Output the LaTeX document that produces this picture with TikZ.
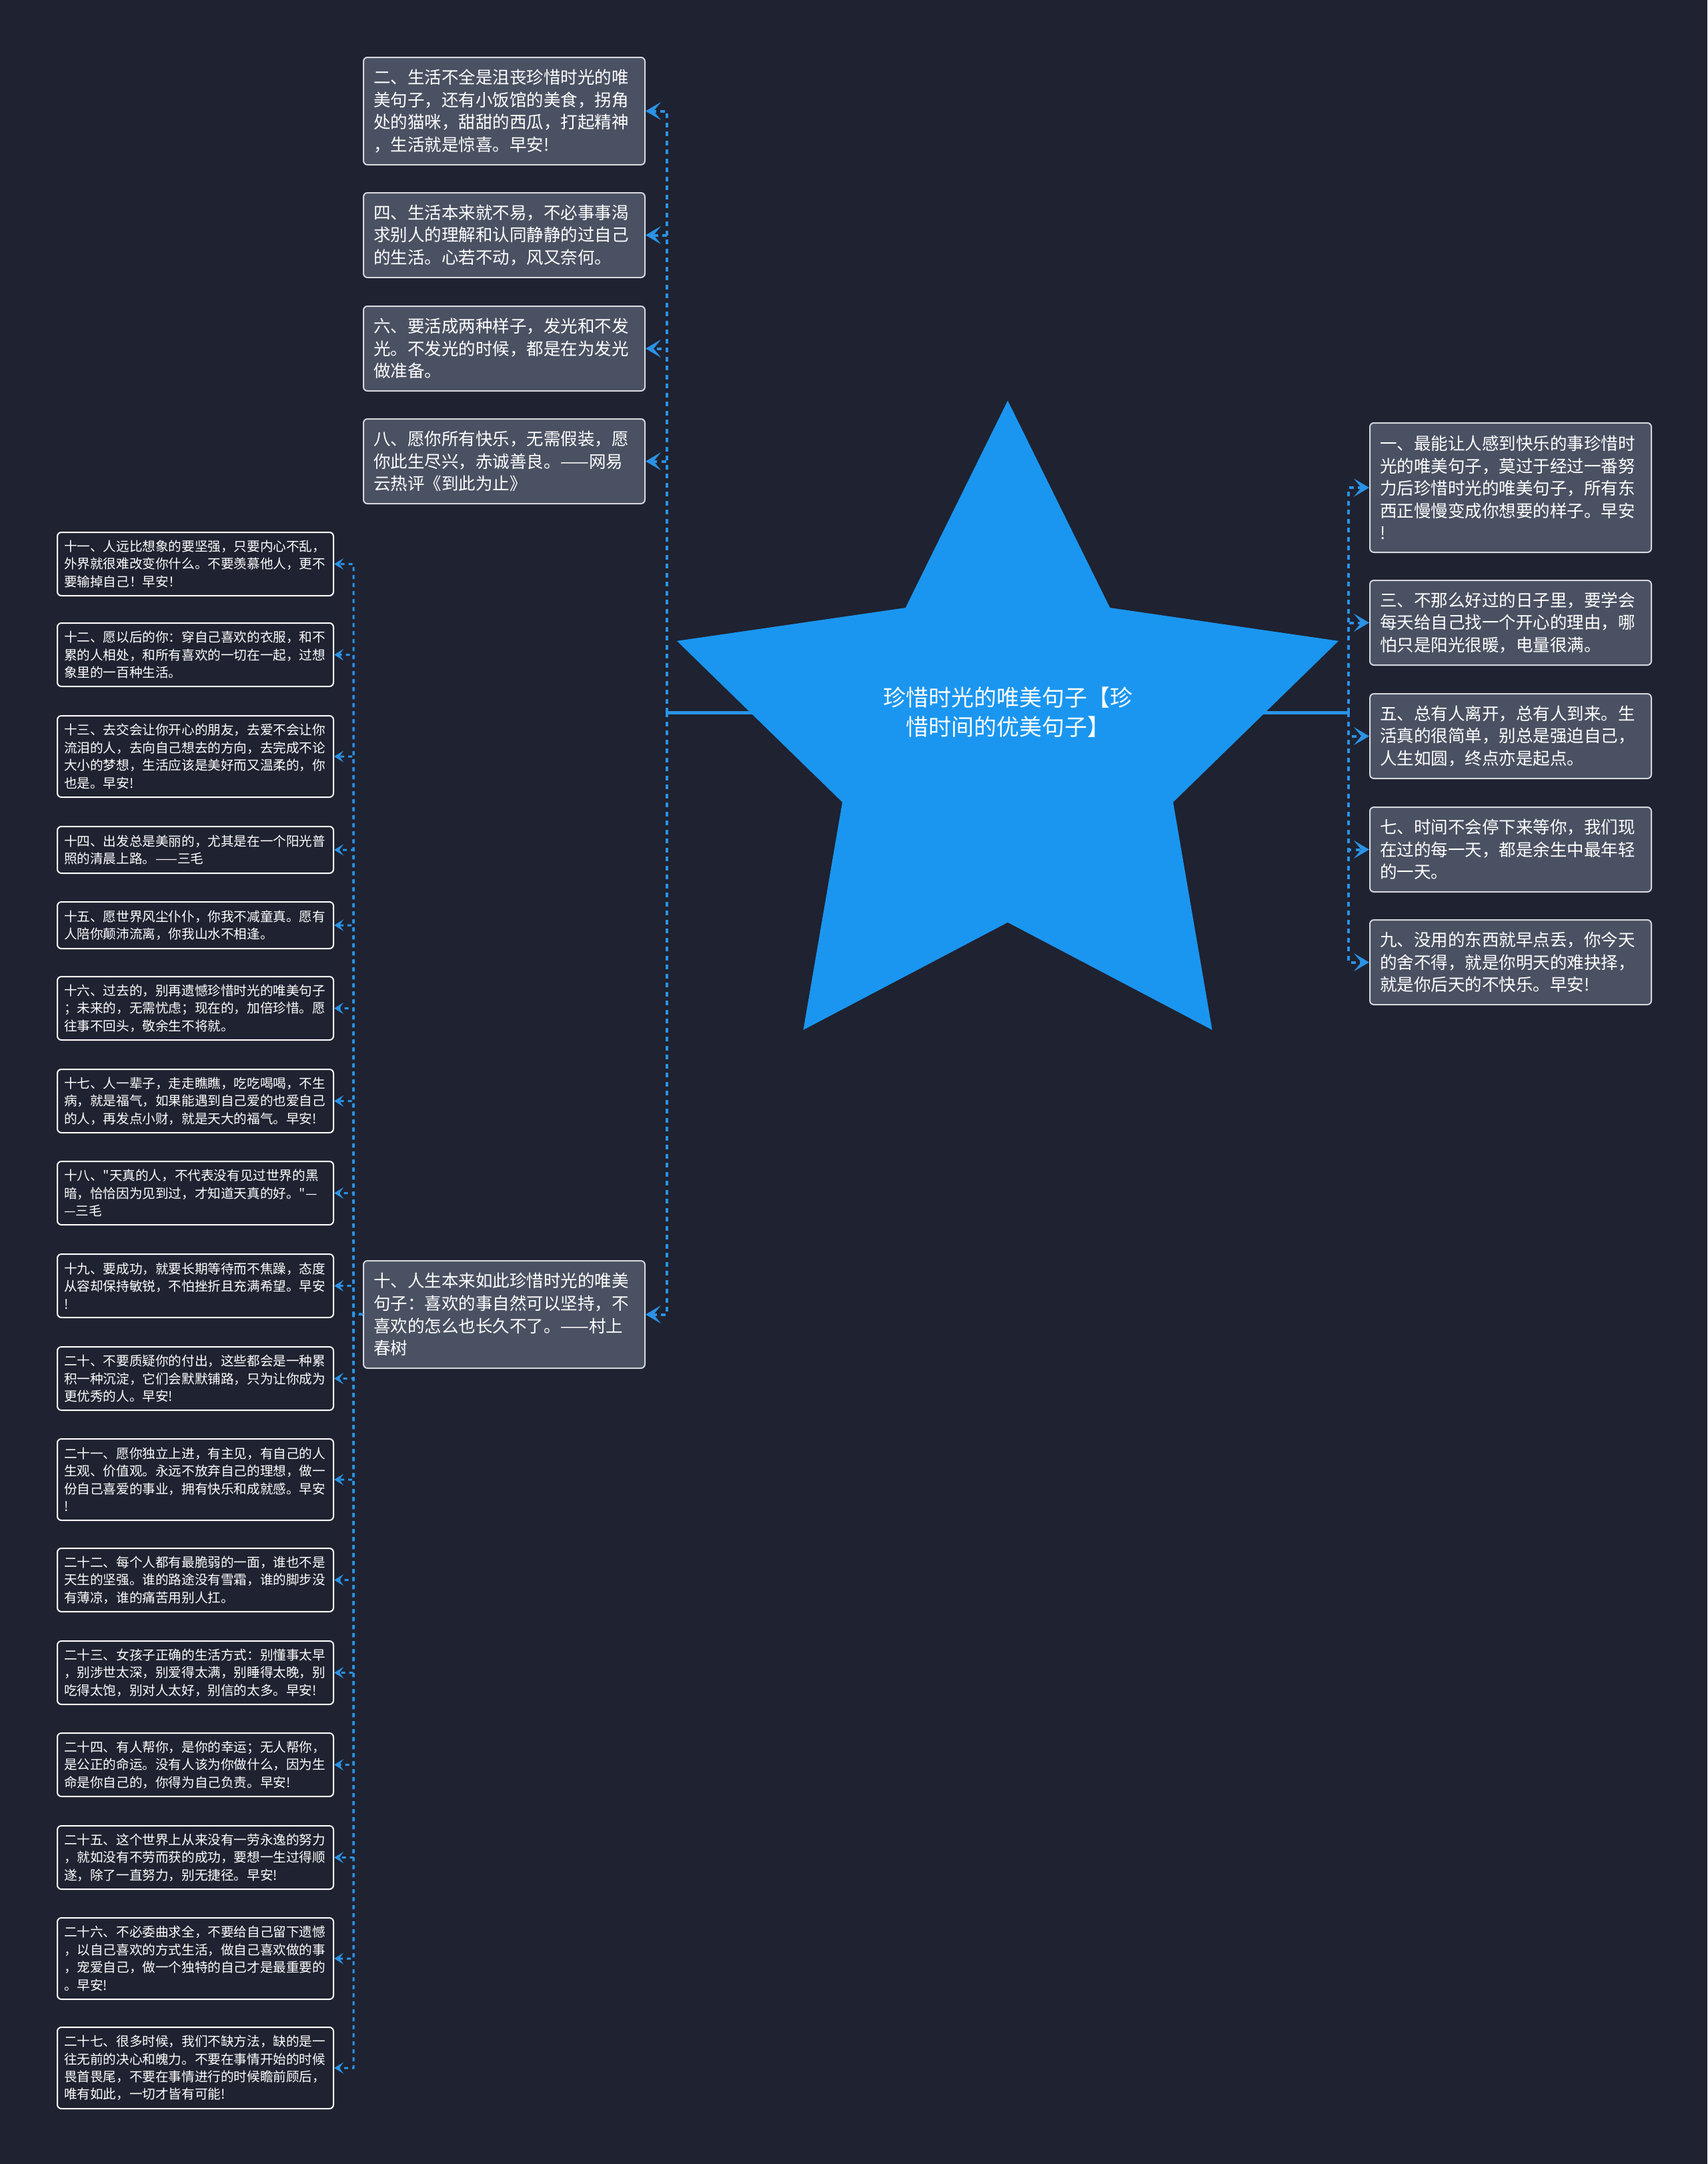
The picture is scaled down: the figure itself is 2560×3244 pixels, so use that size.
\documentclass[tikz,border=0pt]{standalone}
\usepackage{fontspec}
\setmainfont{Noto Sans CJK SC}
\newfontfamily\cjkf{Noto Sans CJK SC}
\usetikzlibrary{shapes.geometric,arrows.meta}
\definecolor{bgc}{HTML}{1F2230}
\definecolor{starblue}{HTML}{1A96F0}
\definecolor{linkblue}{HTML}{2A93E6}
\definecolor{boxfill}{HTML}{4A5162}
\definecolor{boxline}{HTML}{D4D7DD}
\pgfdeclarelayer{back}
\pgfdeclarelayer{edges}
\pgfsetlayers{back,edges,main}
\begin{document}
\begin{tikzpicture}[x=1pt,y=-1pt,
  lvone/.style={draw=boxline, line width=2pt, fill=boxfill, rounded corners=6pt, text=white,
    font=\cjkf\fontsize{25.5}{33.6}\selectfont, align=left, text width=392pt, inner xsep=15pt,
    inner ysep=0pt, anchor=north west},
  lvtwo/.style={draw=white, line width=2pt, fill=bgc, rounded corners=6pt, text=white,
    font=\cjkf\fontsize{19.6}{26.4}\selectfont, align=left, text width=394pt, inner xsep=10pt,
    inner ysep=0pt, anchor=north west},
  hthree/.style={minimum height=127pt},
  hfour/.style={minimum height=161pt},
  hfive/.style={minimum height=194pt},
  htwo/.style={minimum height=70pt},
  hthreeb/.style={minimum height=95pt},
  hfourb/.style={minimum height=122pt},
  starshape/.style={star, star points=5, star point ratio=2, minimum size=1043pt, inner sep=0pt, fill=starblue, draw=none},
  roottext/.style={text=white, font=\cjkf\fontsize{34}{44}\selectfont, align=center, inner sep=0pt},
  rootlink/.style={draw=linkblue, line width=5pt},
  lkone/.style={draw=linkblue, line width=4pt, dash pattern=on 7pt off 6.5pt, -{Stealth[length=23pt,width=27pt,inset=11pt]}},
  lktwo/.style={draw=linkblue, line width=3pt, dash pattern=on 6pt off 6pt, -{Stealth[length=14pt,width=17pt,inset=6pt]}}
]
\useasboundingbox (0,0) rectangle (2560,3244);
\begin{pgfonlayer}{back}
\fill[bgc] (0,0) rectangle (2560,3244);
\end{pgfonlayer}

% root
\node[starshape] (root) at (1511,1122) {};
\node[roottext] (roottitle) at (1511,1068) {珍惜时光的唯美句子【珍\\惜时间的优美句子】};

\coordinate (jl) at (1000,1068);
\coordinate (jr) at (2022,1068);
\coordinate (jt) at (530,1970);

% level one, left
\node[lvone,hfour] (c2) at (544,85) {二、生活不全是沮丧珍惜时光的唯\\美句子，还有小饭馆的美食，拐角\\处的猫咪，甜甜的西瓜，打起精神\\，生活就是惊喜。早安!};
\node[lvone,hthree] (c4) at (544,288) {四、生活本来就不易，不必事事渴\\求别人的理解和认同静静的过自己\\的生活。心若不动，风又奈何。};
\node[lvone,hthree] (c6) at (544,458) {六、要活成两种样子，发光和不发\\光。不发光的时候，都是在为发光\\做准备。};
\node[lvone,hthree] (c8) at (544,627) {八、愿你所有快乐，无需假装，愿\\你此生尽兴，赤诚善良。——网易\\云热评《到此为止》};
\node[lvone,hfour] (c10) at (544,1889) {十、人生本来如此珍惜时光的唯美\\句子：喜欢的事自然可以坚持，不\\喜欢的怎么也长久不了。——村上\\春树};

% level one, right
\node[lvone,hfive] (c1) at (2053,633) {一、最能让人感到快乐的事珍惜时\\光的唯美句子，莫过于经过一番努\\力后珍惜时光的唯美句子，所有东\\西正慢慢变成你想要的样子。早安\\!};
\node[lvone,hthree] (c3) at (2053,869) {三、不那么好过的日子里，要学会\\每天给自己找一个开心的理由，哪\\怕只是阳光很暖，电量很满。};
\node[lvone,hthree] (c5) at (2053,1039) {五、总有人离开，总有人到来。生\\活真的很简单，别总是强迫自己，\\人生如圆，终点亦是起点。};
\node[lvone,hthree] (c7) at (2053,1209) {七、时间不会停下来等你，我们现\\在过的每一天，都是余生中最年轻\\的一天。};
\node[lvone,hthree] (c9) at (2053,1378) {九、没用的东西就早点丢，你今天\\的舍不得，就是你明天的难抉择，\\就是你后天的不快乐。早安!};

% level two
\node[lvtwo,hthreeb] (c11) at (85,797) {十一、人远比想象的要坚强，只要内心不乱，\\外界就很难改变你什么。不要羡慕他人，更不\\要输掉自己！早安！};
\node[lvtwo,hthreeb] (c12) at (85,933) {十二、愿以后的你：穿自己喜欢的衣服，和不\\累的人相处，和所有喜欢的一切在一起，过想\\象里的一百种生活。};
\node[lvtwo,hfourb] (c13) at (85,1072) {十三、去交会让你开心的朋友，去爱不会让你\\流泪的人，去向自己想去的方向，去完成不论\\大小的梦想，生活应该是美好而又温柔的，你\\也是。早安!};
\node[lvtwo,htwo] (c14) at (85,1238) {十四、出发总是美丽的，尤其是在一个阳光普\\照的清晨上路。——三毛};
\node[lvtwo,htwo] (c15) at (85,1351) {十五、愿世界风尘仆仆，你我不减童真。愿有\\人陪你颠沛流离，你我山水不相逢。};
\node[lvtwo,hthreeb] (c16) at (85,1463) {十六、过去的，别再遗憾珍惜时光的唯美句子\\；未来的，无需忧虑；现在的，加倍珍惜。愿\\往事不回头，敬余生不将就。};
\node[lvtwo,hthreeb] (c17) at (85,1602) {十七、人一辈子，走走瞧瞧，吃吃喝喝，不生\\病，就是福气，如果能遇到自己爱的也爱自己\\的人，再发点小财，就是天大的福气。早安!};
\node[lvtwo,hthreeb] (c18) at (85,1740) {十八、"天真的人，不代表没有见过世界的黑\\暗，恰恰因为见到过，才知道天真的好。"—\\—三毛};
\node[lvtwo,hthreeb] (c19) at (85,1879) {十九、要成功，就要长期等待而不焦躁，态度\\从容却保持敏锐，不怕挫折且充满希望。早安\\!};
\node[lvtwo,hthreeb] (c20) at (85,2018) {二十、不要质疑你的付出，这些都会是一种累\\积一种沉淀，它们会默默铺路，只为让你成为\\更优秀的人。早安!};
\node[lvtwo,hfourb] (c21) at (85,2156) {二十一、愿你独立上进，有主见，有自己的人\\生观、价值观。永远不放弃自己的理想，做一\\份自己喜爱的事业，拥有快乐和成就感。早安\\!};
\node[lvtwo,hthreeb] (c22) at (85,2320) {二十二、每个人都有最脆弱的一面，谁也不是\\天生的坚强。谁的路途没有雪霜，谁的脚步没\\有薄凉，谁的痛苦用别人扛。};
\node[lvtwo,hthreeb] (c23) at (85,2459) {二十三、女孩子正确的生活方式：别懂事太早\\，别涉世太深，别爱得太满，别睡得太晚，别\\吃得太饱，别对人太好，别信的太多。早安!};
\node[lvtwo,hthreeb] (c24) at (85,2597) {二十四、有人帮你，是你的幸运；无人帮你，\\是公正的命运。没有人该为你做什么，因为生\\命是你自己的，你得为自己负责。早安!};
\node[lvtwo,hthreeb] (c25) at (85,2736) {二十五、这个世界上从来没有一劳永逸的努力\\，就如没有不劳而获的成功，要想一生过得顺\\遂，除了一直努力，别无捷径。早安!};
\node[lvtwo,hfourb] (c26) at (85,2874) {二十六、不必委曲求全，不要给自己留下遗憾\\，以自己喜欢的方式生活，做自己喜欢做的事\\，宠爱自己，做一个独特的自己才是最重要的\\。早安!};
\node[lvtwo,hfourb] (c27) at (85,3038) {二十七、很多时候，我们不缺方法，缺的是一\\往无前的决心和魄力。不要在事情开始的时候\\畏首畏尾，不要在事情进行的时候瞻前顾后，\\唯有如此，一切才皆有可能!};

\begin{pgfonlayer}{edges}
\draw[rootlink] (roottitle.center) -- (jl);
\draw[rootlink] (roottitle.center) -- (jr);
\end{pgfonlayer}

\foreach \c in {c2,c4,c6,c8,c10} {\draw[lkone] (jl) |- (\c.east);}
\foreach \c in {c1,c3,c5,c7,c9} {\draw[lkone] (jr) |- (\c.west);}
\foreach \c in {c11,c12,c13,c14,c15,c16,c17,c18,c19,c20,c21,c22,c23,c24,c25,c26,c27} {\draw[lktwo] (c10.west) -- (jt) |- (\c.east);}
\end{tikzpicture}
\end{document}
